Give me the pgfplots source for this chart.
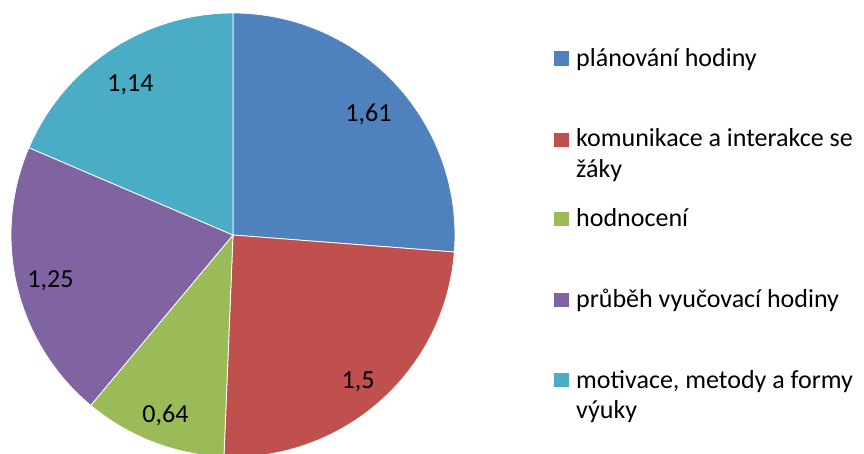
\documentclass[border=0pt]{standalone}
\usepackage{pgfplots}
\pgfplotsset{compat=1.18}
\usepackage{fontspec}
\setmainfont{Carlito}
\definecolor{c1}{HTML}{4F81BD}
\definecolor{c2}{HTML}{C0504D}
\definecolor{c3}{HTML}{9BBB59}
\definecolor{c4}{HTML}{8064A2}
\definecolor{c5}{HTML}{4BACC6}
\begin{document}
\fontsize{26}{31}\selectfont
\begin{tikzpicture}
% data values
\def\vA{1.61}\def\vB{1.5}\def\vC{0.64}\def\vD{1.25}\def\vE{1.14}
\pgfmathsetmacro\tot{\vA+\vB+\vC+\vD+\vE}
\pgfmathsetmacro\aA{90}
\pgfmathsetmacro\aB{\aA-360*\vA/\tot}
\pgfmathsetmacro\aC{\aB-360*\vB/\tot}
\pgfmathsetmacro\aD{\aC-360*\vC/\tot}
\pgfmathsetmacro\aE{\aD-360*\vD/\tot}
\pgfmathsetmacro\aF{\aE-360*\vE/\tot}
\begin{axis}[
  scale only axis, width=864pt, height=453pt,
  xmin=0, xmax=864, ymin=-453, ymax=0,
  hide axis, clip=true,
]
\def\slice#1#2#3{\filldraw[fill=#1, draw=white, line width=0.8pt] (axis cs:233,-235) -- ++(#2:222pt) arc[start angle=#2, end angle=#3, radius=222pt] -- cycle;}
\slice{c1}{\aA}{\aB}
\slice{c2}{\aB}{\aC}
\slice{c3}{\aC}{\aD}
\slice{c4}{\aD}{\aE}
\slice{c5}{\aE}{\aF}
% data labels
\node[anchor=base] at (axis cs:368.5,-122) {1,61};
\node[anchor=base] at (axis cs:358,-388) {1,5};
\node[anchor=base] at (axis cs:165.5,-422) {0,64};
\node[anchor=base] at (axis cs:50.5,-287) {1,25};
\node[anchor=base] at (axis cs:130.5,-92) {1,14};
% legend
\fill[c1] (axis cs:554,-66) rectangle (axis cs:569,-51);
\fill[c2] (axis cs:554,-147) rectangle (axis cs:569,-133);
\fill[c3] (axis cs:554,-226) rectangle (axis cs:569,-212);
\fill[c4] (axis cs:554,-307) rectangle (axis cs:569,-293);
\fill[c5] (axis cs:554,-387) rectangle (axis cs:569,-373);
\node[anchor=base west, inner sep=0pt] at (axis cs:576,-67) {plánování hodiny};
\node[anchor=base west, inner sep=0pt] at (axis cs:576,-147) {komunikace a interakce se};
\node[anchor=base west, inner sep=0pt] at (axis cs:576,-178) {žáky};
\node[anchor=base west, inner sep=0pt] at (axis cs:576,-227) {hodnocení};
\node[anchor=base west, inner sep=0pt] at (axis cs:576,-307) {průběh vyučovací hodiny};
\node[anchor=base west, inner sep=0pt] at (axis cs:576,-388) {motivace, metody a formy};
\node[anchor=base west, inner sep=0pt] at (axis cs:576,-418) {výuky};
\end{axis}
\pgfresetboundingbox
\path[use as bounding box] (current axis.south west) rectangle (current axis.north east);
\end{tikzpicture}
\end{document}
